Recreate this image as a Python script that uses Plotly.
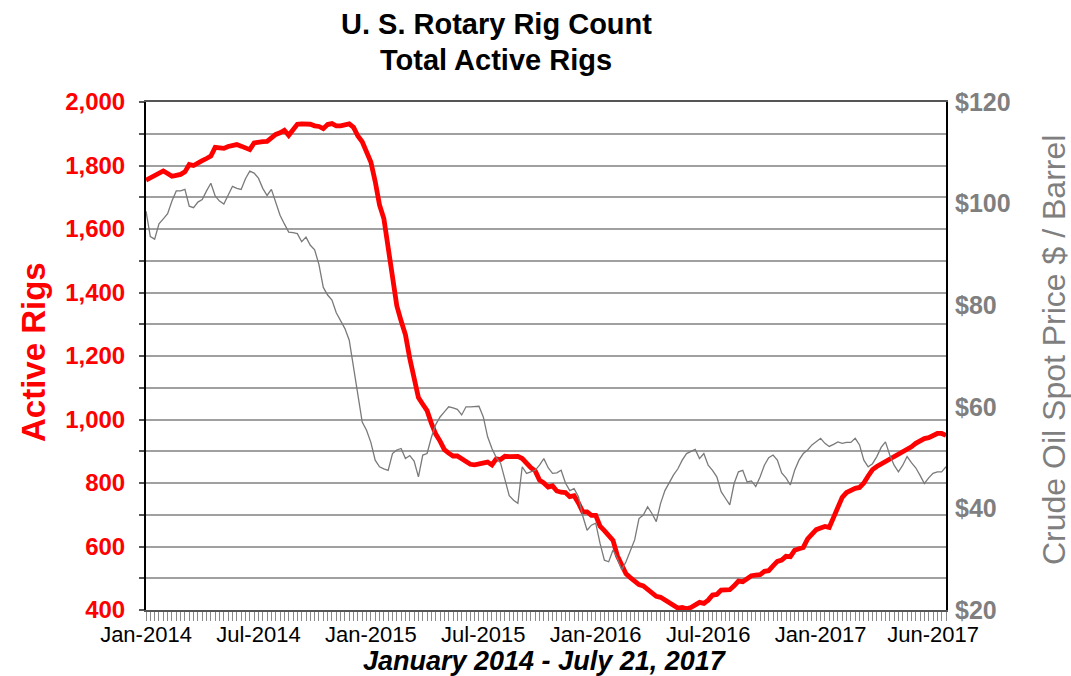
import plotly.graph_objects as go
import pandas as pd

# ---------------- data ----------------
start_week = "2014-01-03"   # first weekly report (Friday)

rigs_2014 = [1754, 1762, 1769, 1775, 1783, 1775, 1766, 1769, 1772, 1780, 1803, 1800, 1809,
             1815, 1822, 1830, 1857, 1857, 1854, 1860, 1862, 1866, 1861, 1856, 1850, 1871,
             1874, 1875, 1876, 1886, 1898, 1903, 1911, 1895, 1914, 1930, 1931, 1931, 1930,
             1925, 1923, 1916, 1929, 1932, 1925, 1925, 1929, 1931, 1920, 1893, 1875, 1840]
rigs_2015 = [1811, 1750, 1676, 1633, 1543, 1456, 1358, 1310, 1267, 1192, 1125, 1069, 1048,
             1028, 988, 954, 932, 905, 894, 885, 885, 875, 868, 859, 857, 859,
             863, 866, 857, 876, 874, 884, 883, 885, 884, 877, 862, 848, 838,
             809, 800, 787, 791, 775, 771, 770, 757, 760, 737, 709, 709, 698]
rigs_2016 = [698, 664, 650, 637, 619, 571, 541, 514, 502, 489, 480, 476, 464,
             450, 443, 440, 431, 420, 415, 406, 408, 404, 408, 414, 424, 421,
             431, 447, 449, 463, 464, 464, 476, 491, 489, 497, 508, 510, 511,
             522, 524, 539, 553, 557, 569, 568, 588, 593, 597, 624, 637, 653]
rigs_2017 = [658, 663, 660, 695, 728, 755, 770, 778, 783, 786, 800, 822, 842,
             852, 860, 868, 873, 880, 888, 898, 908, 914, 925, 933, 940, 943,
             950, 956, 956, 950]

oil_2014 = [98.5, 93.5, 93.0, 96.0, 97.0, 98.0, 100.5, 102.5, 102.5, 102.8, 99.5, 99.2, 100.3,
            100.8, 102.5, 104.0, 101.5, 100.5, 99.9, 101.5, 103.4, 103.0, 102.8, 104.9, 106.4, 106.0,
            105.0, 103.0, 101.6, 102.8, 100.0, 97.7, 96.0, 94.4, 94.3, 94.1, 92.5, 93.4, 91.8,
            90.9, 88.0, 83.5, 82.0, 81.0, 78.5, 77.0, 75.4, 73.1, 67.9, 62.6, 57.0, 55.4]
oil_2015 = [53.0, 49.5, 48.2, 47.8, 47.5, 50.8, 51.5, 51.8, 49.8, 50.4, 49.3, 46.2, 50.5,
            50.8, 54.0, 56.5, 58.0, 59.0, 60.0, 59.8, 59.5, 58.4, 60.0, 60.0, 60.0, 60.1,
            58.0, 54.1, 51.8, 50.0, 48.9, 45.5, 42.5, 41.6, 41.0, 48.2, 46.9, 47.2, 47.5,
            48.5, 49.8, 48.0, 46.9, 47.0, 47.5, 45.0, 43.5, 43.9, 42.3, 38.5, 35.7, 36.7]
oil_2016 = [37.1, 33.1, 29.8, 29.5, 31.8, 30.2, 27.9, 29.5, 31.5, 33.8, 38.0, 38.7, 40.3,
            39.0, 37.4, 41.0, 43.5, 45.0, 46.6, 47.8, 49.5, 50.8, 51.2, 51.6, 49.8, 50.8,
            48.5, 47.5, 46.2, 43.3, 42.0, 40.7, 44.9, 47.2, 47.5, 45.2, 45.4, 44.3, 46.2,
            48.5, 50.0, 50.5, 49.5, 47.0, 46.0, 44.6, 47.5, 49.5, 50.8, 51.5, 52.5, 53.2]
oil_2017 = [53.8, 52.8, 52.2, 52.6, 53.1, 52.8, 53.0, 53.0, 53.8, 52.5, 49.5, 48.2, 48.8,
            50.2, 52.0, 53.1, 50.5, 48.5, 47.2, 48.5, 50.2, 49.0, 48.0, 46.5, 44.9, 46.0,
            46.9, 47.2, 47.2, 48.2]

x_tick_weeks = [0, 26, 52, 78, 104, 130, 156, 182]
x_tick_text = ["Jan-2014", "Jul-2014", "Jan-2015", "Jul-2015",
               "Jan-2016", "Jul-2016", "Jan-2017", "Jun-2017"]

rig_ticks = list(range(400, 2001, 100))
rig_tick_text = [f"{v:,}" if v % 200 == 0 else "" for v in rig_ticks]
oil_ticks = [20, 40, 60, 80, 100, 120]
oil_tick_text = [f"${v}" for v in oil_ticks]

title_1 = "U. S. Rotary Rig Count"
title_2 = "Total Active Rigs"
x_title = "January 2014 - July 21, 2017"
y_title = "Active Rigs"
y2_title = "Crude Oil Spot Price $ / Barrel"

# ---------------- build ----------------
rigs = rigs_2014 + rigs_2015 + rigs_2016 + rigs_2017
oil = oil_2014 + oil_2015 + oil_2016 + oil_2017
weeks = pd.date_range(start_week, periods=len(rigs), freq="7D")
tick_dates = [weeks[i] for i in x_tick_weeks]

W, H = 1071, 676
ML, MR, MT, MB = 146, 125, 102, 66
PW, PH = W - ML - MR, H - MT - MB
FONT = "Liberation Sans, Arial, sans-serif"


def px(xp):
    return (xp - ML) / PW


def py(yp):
    return (H - MB - yp) / PH


fig = go.Figure()
fig.add_trace(go.Scatter(x=weeks, y=oil, yaxis="y2", mode="lines",
                         line=dict(color="#7a7a7a", width=1.3), showlegend=False))
fig.add_trace(go.Scatter(x=weeks, y=rigs, yaxis="y", mode="lines",
                         line=dict(color="#ff0000", width=4.8), showlegend=False))

fig.update_layout(
    width=W, height=H,
    margin=dict(l=ML, r=MR, t=MT, b=MB),
    paper_bgcolor="white", plot_bgcolor="white",
    font=dict(family=FONT),
    xaxis=dict(
        type="date", range=[weeks[0], weeks[-1]],
        tickvals=tick_dates, ticktext=x_tick_text,
        tickfont=dict(size=22, color="black", family=FONT),
        ticks="outside", ticklen=9, tickcolor="#8a8a8a", tickwidth=1,
        ticklabelstandoff=-5,
        minor=dict(dtick=7 * 86400000, tick0=start_week, ticks="outside",
                   ticklen=9, tickcolor="#8a8a8a", tickwidth=1, showgrid=False),
        showgrid=False, zeroline=False,
        showline=True, linecolor="#555555", linewidth=1.5, mirror=True,
    ),
    yaxis=dict(
        range=[400, 2000], tickvals=rig_ticks, ticktext=rig_tick_text,
        tickfont=dict(size=24, color="#ff0000", family=FONT, weight="bold"),
        ticks="outside", ticklen=5, tickcolor="#555555", tickwidth=1.5,
        ticklabelstandoff=9,
        showgrid=True, gridcolor="#a0a0a0", gridwidth=2,
        zeroline=False, showline=True, linecolor="black", linewidth=2, mirror=True,
    ),
    yaxis2=dict(
        range=[20, 120], tickvals=oil_ticks, ticktext=oil_tick_text,
        overlaying="y", side="right",
        tickfont=dict(size=25, color="#7f7f7f", family=FONT, weight="bold"),
        ticks="", ticklabelstandoff=8,
        showgrid=False, zeroline=False, showline=False,
    ),
    annotations=[
        dict(text=f"<b>{title_1}</b>", xref="paper", yref="paper", x=px(496), y=py(24),
             xanchor="center", yanchor="middle", showarrow=False,
             font=dict(size=29, color="black", family=FONT)),
        dict(text=f"<b>{title_2}</b>", xref="paper", yref="paper", x=px(496), y=py(60),
             xanchor="center", yanchor="middle", showarrow=False,
             font=dict(size=29, color="black", family=FONT)),
        dict(text=f"<b><i>{x_title}</i></b>", xref="paper", yref="paper", x=px(545), y=py(661),
             xanchor="center", yanchor="middle", showarrow=False,
             font=dict(size=27, color="black", family=FONT)),
        dict(text=f"<b>{y_title}</b>", xref="paper", yref="paper", x=px(33), y=py(352),
             xanchor="center", yanchor="middle", showarrow=False, textangle=-90,
             font=dict(size=33, color="#ff0000", family=FONT)),
        dict(text=y2_title, xref="paper", yref="paper", x=px(1054), y=py(350),
             xanchor="center", yanchor="middle", showarrow=False, textangle=-90,
             font=dict(size=32, color="#7f7f7f", family=FONT)),
    ],
)

fig.write_html("out.html", config={"displayModeBar": False},
               post_script="document.body.style.margin='0';")
